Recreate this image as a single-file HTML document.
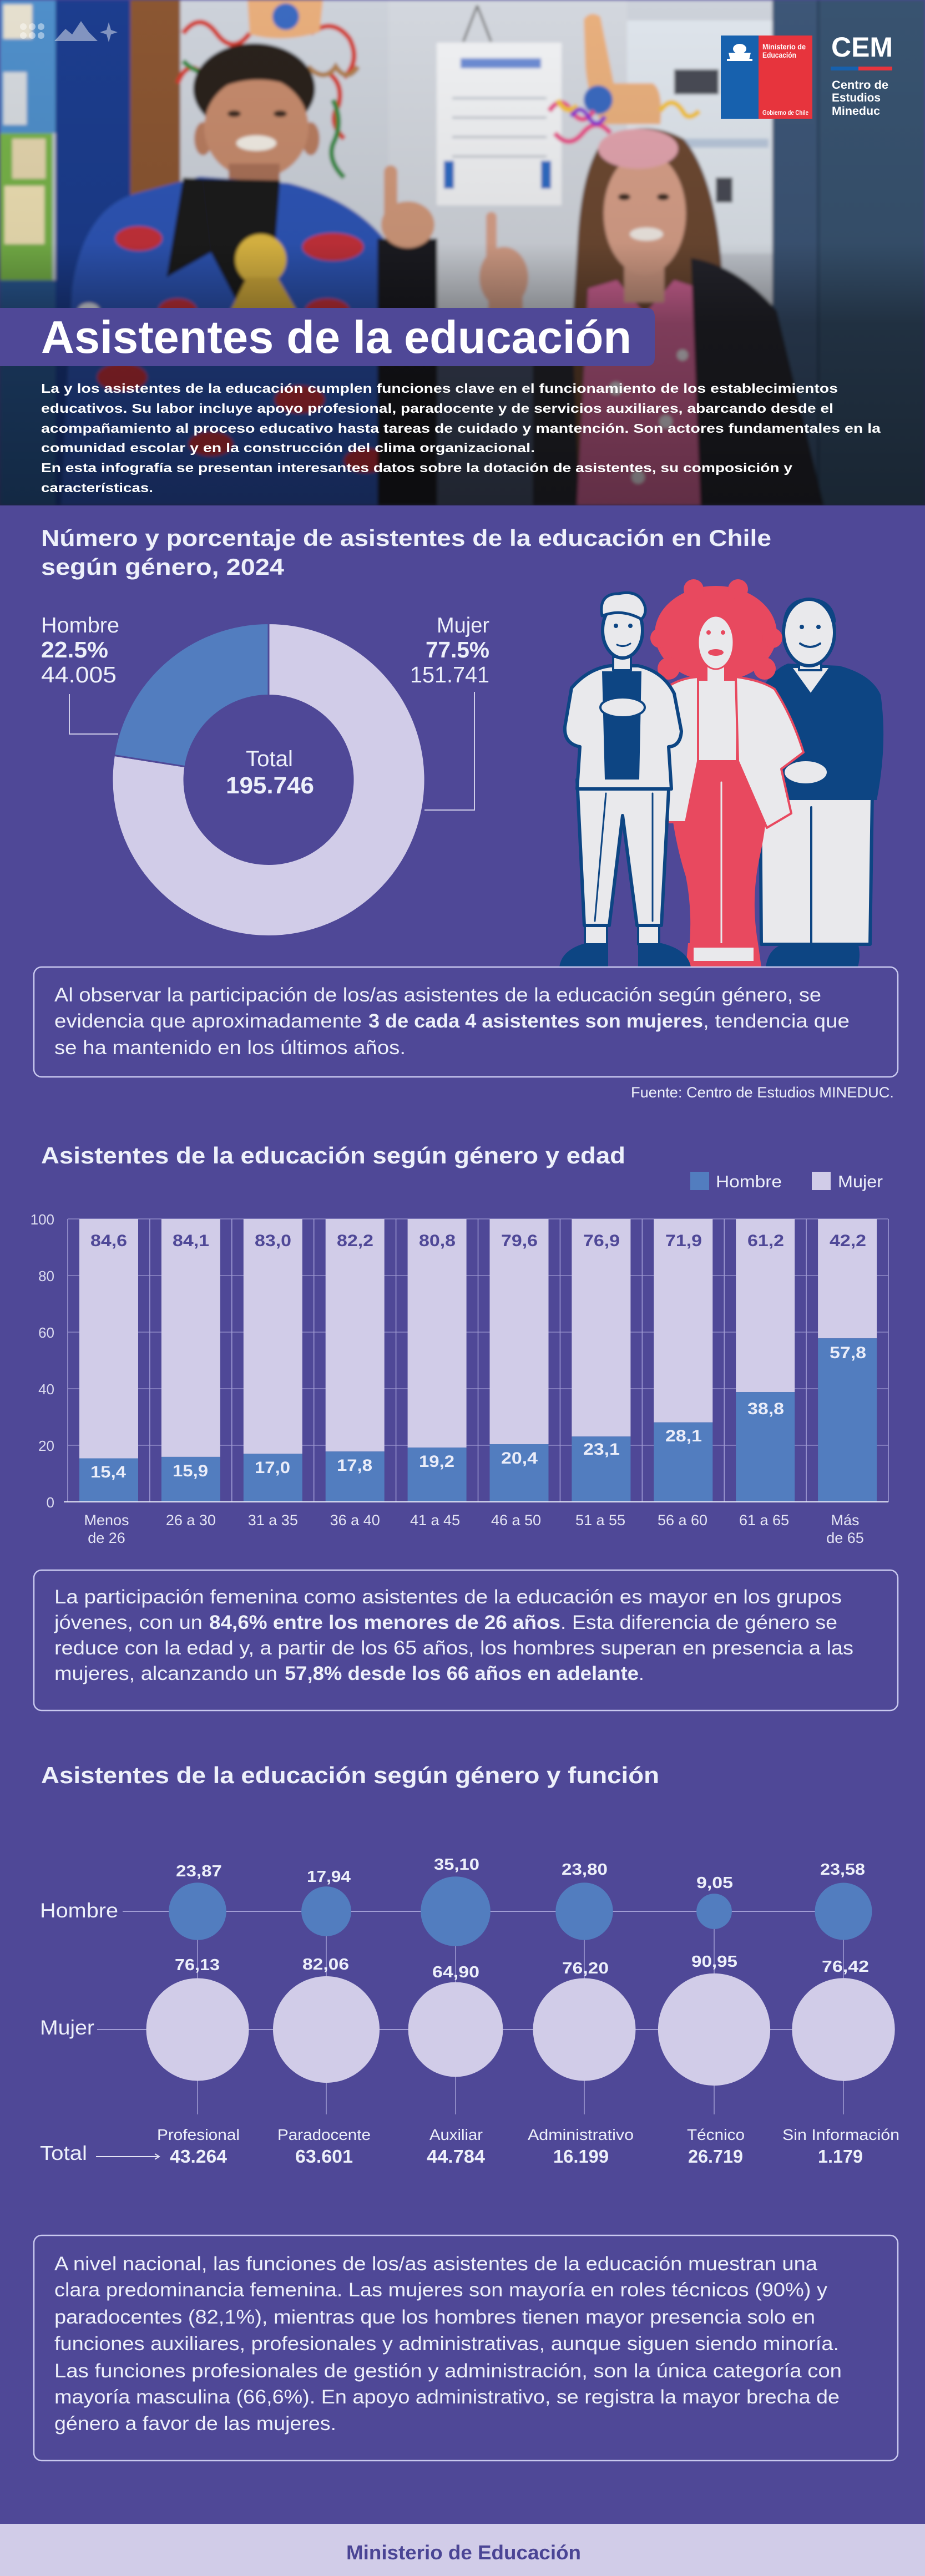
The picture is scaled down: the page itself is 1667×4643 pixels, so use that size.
<!DOCTYPE html>
<html lang="es">
<head>
<meta charset="utf-8">
<title>Asistentes de la educación</title>
<style>
html,body{margin:0;padding:0;background:#4f4897;}
body{width:1667px;height:4643px;overflow:hidden;}
svg{display:block;}
text{font-family:"Liberation Sans",sans-serif;}
.b{font-weight:bold;}
.w{fill:#edf0fa;}
</style>
</head>
<body>
<svg xmlns="http://www.w3.org/2000/svg" width="1667" height="4643" viewBox="0 0 1667 4643">
<defs>
  <clipPath id="pc"><rect x="0" y="0" width="1667" height="911"/></clipPath>
  <filter id="bl" filterUnits="userSpaceOnUse" x="-20" y="-20" width="1707" height="960">
    <feGaussianBlur stdDeviation="3"/>
  </filter>
  <linearGradient id="dk" x1="0" y1="0" x2="0" y2="1">
    <stop offset="0" stop-color="#000" stop-opacity="0"/>
    <stop offset="0.48" stop-color="#000" stop-opacity="0.08"/>
    <stop offset="0.64" stop-color="#000" stop-opacity="0.42"/>
    <stop offset="1" stop-color="#000" stop-opacity="0.55"/>
  </linearGradient>
</defs>

<!-- page background -->
<rect x="0" y="0" width="1667" height="4643" fill="#4f4897"/>

<!-- ================= PHOTO ================= -->
<g clip-path="url(#pc)">
<g filter="url(#bl)">
  <rect x="0" y="0" width="1667" height="911" fill="#c8cdd5"/>
  <!-- left board -->
  <rect x="0" y="0" width="100" height="240" fill="#4f8fca"/>
  <rect x="6" y="8" width="52" height="62" fill="#e6e0cf"/>
  <rect x="6" y="130" width="42" height="95" fill="#d6dadf"/>
  <rect x="0" y="240" width="95" height="265" fill="#78b44a"/>
  <rect x="22" y="250" width="60" height="72" fill="#e5d6ae"/>
  <rect x="8" y="335" width="72" height="105" fill="#efe1b4"/>
  <rect x="0" y="505" width="100" height="406" fill="#2a5a96"/>
  <rect x="100" y="0" width="135" height="911" fill="#1f3e8e"/>
  <rect x="235" y="0" width="90" height="620" fill="#8b5632"/>
  <rect x="235" y="620" width="90" height="291" fill="#4a3426"/>
  <!-- wall -->
  <rect x="325" y="0" width="1070" height="911" fill="#cdd2da"/>
  <rect x="700" y="0" width="430" height="911" fill="#d3d7de"/>
  <!-- lower middle dark area -->
  <rect x="788" y="560" width="240" height="351" fill="#46516b"/>
  <!-- paper -->
  <rect x="787" y="77" width="225" height="293" fill="#f1f2f4"/>
  <path d="M860 10 L835 75 M860 10 L885 75" stroke="#777" stroke-width="4" fill="none"/>
  <rect x="830" y="105" width="145" height="18" fill="#6d8dd4"/>
  <rect x="815" y="175" width="170" height="4" fill="#bfc4cc"/>
  <rect x="815" y="210" width="170" height="4" fill="#bfc4cc"/>
  <rect x="815" y="245" width="170" height="4" fill="#bfc4cc"/>
  <rect x="815" y="280" width="170" height="4" fill="#bfc4cc"/>
  <rect x="800" y="290" width="18" height="50" fill="#2f6cc4"/>
  <rect x="975" y="290" width="18" height="50" fill="#2f6cc4"/>
  <!-- sign right -->
  <rect x="1130" y="37" width="262" height="420" fill="#dfe5ec"/>
  <rect x="1140" y="250" width="245" height="16" fill="#b9c7da"/>
  <rect x="1215" y="125" width="80" height="45" fill="#4a4b55"/>
  <rect x="1290" y="320" width="30" height="45" fill="#4a4b55"/>
  <!-- door -->
  <rect x="1392" y="0" width="275" height="911" fill="#3d5777"/>
  <rect x="1472" y="0" width="5" height="911" fill="#2b425f"/>
  <rect x="1477" y="0" width="190" height="911" fill="#37536f"/>

  <!-- MAN -->
  <path d="M330 60 q30 -40 60 0 q30 40 60 0 M320 150 q20 -50 50 -10 M560 60 q40 -30 70 10 q20 40 -10 70 M590 130 q30 20 20 60 q-20 30 10 60" stroke="#d23a2e" stroke-width="9" fill="none"/>
  <path d="M330 110 q40 40 80 0 M600 180 q20 40 0 80 q-10 30 20 60" stroke="#2e8a3e" stroke-width="9" fill="none"/>
  <path d="M555 120 q30 30 50 0 q20 30 40 0" stroke="#b08050" stroke-width="9" fill="none"/>
  <ellipse cx="458" cy="160" rx="110" ry="82" fill="#2b211c"/>
  <ellipse cx="366" cy="250" rx="16" ry="30" fill="#b87d61"/>
  <ellipse cx="560" cy="250" rx="16" ry="30" fill="#b87d61"/>
  <ellipse cx="462" cy="230" rx="94" ry="92" fill="#c68b6d"/>
  <path d="M365 175 Q460 115 560 170 L565 140 Q460 80 360 145 Z" fill="#2b211c"/>
  <ellipse cx="422" cy="205" rx="12" ry="6" fill="#3a2a22"/>
  <ellipse cx="505" cy="205" rx="12" ry="6" fill="#3a2a22"/>
  <ellipse cx="462" cy="258" rx="36" ry="14" fill="#f1ece4"/>
  <path d="M446 0 L582 0 L576 58 Q510 78 450 62 Z" fill="#e8ae7c"/>
  <circle cx="515" cy="30" r="24" fill="#3a6ac0"/>
  <rect x="412" y="295" width="92" height="50" fill="#a97158"/>
  <path d="M110 911 L130 520 Q150 380 240 350 L360 318 L520 330 Q640 360 700 440 L760 560 L787 911 Z" fill="#2d56b8"/>
  <path d="M330 320 L365 322 L380 455 L300 500 Z" fill="#1a1a1f"/>
  <path d="M365 322 L505 325 L495 455 L435 560 L380 455 Z" fill="#1a1a1f"/>
  <ellipse cx="250" cy="430" rx="42" ry="22" fill="#c8323a"/>
  <ellipse cx="600" cy="445" rx="55" ry="25" fill="#c8323a"/>
  <ellipse cx="320" cy="560" rx="35" ry="22" fill="#c8323a"/>
  <ellipse cx="590" cy="560" rx="40" ry="22" fill="#c8323a"/>
  <ellipse cx="220" cy="680" rx="45" ry="25" fill="#c8323a"/>
  <ellipse cx="540" cy="720" rx="45" ry="25" fill="#c8323a"/>
  <ellipse cx="380" cy="800" rx="40" ry="22" fill="#c8323a"/>
  <ellipse cx="660" cy="830" rx="40" ry="22" fill="#c8323a"/>
  <ellipse cx="160" cy="560" rx="20" ry="14" fill="#e6e9f2"/>
  <ellipse cx="700" cy="640" rx="20" ry="14" fill="#e6e9f2"/>
  <circle cx="470" cy="468" r="46" fill="#e4bd45"/>
  <path d="M445 500 L500 500 L535 560 L415 560 Z" fill="#d6ae3e"/>
  <rect x="680" y="430" width="108" height="481" fill="#1d1d24"/>
  <ellipse cx="735" cy="405" rx="48" ry="42" fill="#d29a7b"/>
  <rect x="692" y="298" width="24" height="100" rx="12" fill="#d29a7b"/>

  <!-- WOMAN -->
  <path d="M1052 35 Q1064 18 1082 30 L1106 150 L1176 150 Q1196 162 1190 224 L1085 224 Q1060 180 1055 120 Z" fill="#e9b07e"/>
  <circle cx="1078" cy="180" r="26" fill="#3a6ac0"/>
  <path d="M990 200 q20 -30 40 0 q20 30 40 0 M1000 240 q25 30 50 0 q25 -30 50 0" stroke="#e84d8a" stroke-width="9" fill="none"/>
  <path d="M1005 180 q15 30 35 10 M1190 200 q20 -30 40 0 q10 20 30 0" stroke="#f2c230" stroke-width="9" fill="none"/>
  <path d="M1030 210 q15 -25 30 0 q15 25 30 0" stroke="#8a3ad0" stroke-width="8" fill="none"/>
  <path d="M1090 250 Q1160 212 1232 250 Q1292 320 1302 500 Q1330 700 1350 911 L1010 911 Q1028 650 1040 450 Q1046 300 1090 250 Z" fill="#6d4a31"/>
  <path d="M960 600 L1030 560 L1045 911 L960 911 Z" fill="#2a2a30"/>
  <path d="M1060 520 L1112 505 L1162 565 L1215 505 L1268 522 L1275 911 L1040 911 Z" fill="#d9679b"/>
  <circle cx="1110" cy="700" r="12" fill="#f0e8f0"/>
  <circle cx="1200" cy="760" r="12" fill="#f0e8f0"/>
  <circle cx="1150" cy="860" r="12" fill="#f0e8f0"/>
  <circle cx="1230" cy="640" r="10" fill="#f0e8f0"/>
  <rect x="1125" y="475" width="72" height="70" fill="#d39c86"/>
  <ellipse cx="1162" cy="385" rx="74" ry="110" fill="#d8a089"/>
  <ellipse cx="1150" cy="268" rx="72" ry="36" fill="#e2a4ae"/>
  <ellipse cx="1125" cy="355" rx="11" ry="6" fill="#3a2a22"/>
  <ellipse cx="1195" cy="355" rx="11" ry="6" fill="#3a2a22"/>
  <ellipse cx="1165" cy="422" rx="30" ry="12" fill="#f3ece6"/>
  <path d="M1245 465 Q1330 478 1400 560 L1485 911 L1262 911 Z" fill="#27272d"/>
  <rect x="876" y="382" width="19" height="92" rx="9" fill="#d9a28a"/>
  <ellipse cx="908" cy="500" rx="44" ry="55" fill="#d9a28a"/>
  <rect x="880" y="520" width="62" height="60" fill="#d9a28a"/>
</g>
<rect x="0" y="0" width="1667" height="911" fill="url(#dk)"/>
</g>

<!-- top-left decorative icon -->
<g fill="#ffffff" fill-opacity="0.45">
  <circle cx="42" cy="48" r="6"/><circle cx="58" cy="48" r="6"/><circle cx="74" cy="48" r="6"/>
  <circle cx="42" cy="64" r="6"/><circle cx="58" cy="64" r="6"/><circle cx="74" cy="64" r="6"/>
  <path d="M98 74 L118 52 L130 62 L146 38 L160 58 L176 74 Z"/>
  <path d="M196 40 L200 54 L212 58 L200 62 L196 76 L192 62 L180 58 L192 54 Z"/>
</g>

<!-- Government logo -->
<rect x="1299" y="64" width="68" height="150" fill="#1761ae"/>
<rect x="1367" y="64" width="97" height="150" fill="#e7343d"/>
<g fill="#ffffff">
  <ellipse cx="1333" cy="88" rx="12" ry="9"/>
  <path d="M1313 95 L1353 95 L1350 108 L1316 108 Z"/>
  <rect x="1310" y="106" width="46" height="4"/>
</g>
<text x="1374" y="89" class="b" font-size="14" fill="#fff" textLength="78" lengthAdjust="spacingAndGlyphs">Ministerio de</text>
<text x="1374" y="104" class="b" font-size="14" fill="#fff" textLength="61" lengthAdjust="spacingAndGlyphs">Educación</text>
<text x="1374" y="207" class="b" font-size="12" fill="#fff" textLength="83" lengthAdjust="spacingAndGlyphs">Gobierno de Chile</text>

<!-- CEM -->
<text x="1498" y="102" class="b" font-size="50" fill="#fff" textLength="111" lengthAdjust="spacingAndGlyphs">CEM</text>
<rect x="1497" y="120" width="50" height="7" fill="#1761ae"/>
<rect x="1547" y="120" width="61" height="7" fill="#e7343d"/>
<text x="1499" y="160" class="b" font-size="21" fill="#fff" textLength="102" lengthAdjust="spacingAndGlyphs">Centro de</text>
<text x="1499" y="183" class="b" font-size="21" fill="#fff" textLength="88" lengthAdjust="spacingAndGlyphs">Estudios</text>
<text x="1499" y="207" class="b" font-size="21" fill="#fff" textLength="87" lengthAdjust="spacingAndGlyphs">Mineduc</text>

<!-- Title bar -->
<path d="M0 555 L1164 555 Q1180 555 1180 571 L1180 644 Q1180 660 1164 660 L0 660 Z" fill="#4f4897"/>
<text x="74" y="636" class="b" font-size="83" fill="#fff" textLength="1064" lengthAdjust="spacingAndGlyphs">Asistentes de la educación</text>

<!-- Intro text -->
<g class="b" font-size="23" fill="#fff">
<text x="74" y="708" textLength="1436" lengthAdjust="spacingAndGlyphs">La y los asistentes de la educación cumplen funciones clave en el funcionamiento de los establecimientos</text>
<text x="74" y="744" textLength="1428" lengthAdjust="spacingAndGlyphs">educativos. Su labor incluye apoyo profesional, paradocente y de servicios auxiliares, abarcando desde el</text>
<text x="74" y="780" textLength="1513" lengthAdjust="spacingAndGlyphs">acompañamiento al proceso educativo hasta tareas de cuidado y mantención. Son actores fundamentales en la</text>
<text x="74" y="815" textLength="890" lengthAdjust="spacingAndGlyphs">comunidad escolar y en la construcción del clima organizacional.</text>
<text x="74" y="851" textLength="1354" lengthAdjust="spacingAndGlyphs">En esta infografía se presentan interesantes datos sobre la dotación de asistentes, su composición y</text>
<text x="74" y="887" textLength="202" lengthAdjust="spacingAndGlyphs">características.</text>
</g>

<!-- ================= SECTION 1 ================= -->
<text x="74" y="984" class="b w" font-size="42" textLength="1316" lengthAdjust="spacingAndGlyphs">Número y porcentaje de asistentes de la educación en Chile</text>
<text x="74" y="1036" class="b w" font-size="42" textLength="438" lengthAdjust="spacingAndGlyphs">según género, 2024</text>

<!-- donut -->
<path d="M484 1123.5 A282 282 0 1 1 205.5 1361.4 L333.9 1381.7 A152 152 0 1 0 484 1253.5 Z" fill="#d1cce8" stroke="#4f4897" stroke-width="3"/>
<path d="M484 1123.5 A282 282 0 0 0 205.5 1361.4 L333.9 1381.7 A152 152 0 0 1 484 1253.5 Z" fill="#527dbf" stroke="#4f4897" stroke-width="3"/>
<polyline points="125,1251 125,1323 213,1323" fill="none" stroke="#cfcde9" stroke-width="2"/>
<polyline points="855,1247 855,1460 765,1460" fill="none" stroke="#cfcde9" stroke-width="2"/>

<g class="w">
<text x="74" y="1140" font-size="39" textLength="141" lengthAdjust="spacingAndGlyphs">Hombre</text>
<text x="74" y="1185" class="b" font-size="41" textLength="121" lengthAdjust="spacingAndGlyphs">22.5%</text>
<text x="74" y="1230" font-size="41" textLength="136" lengthAdjust="spacingAndGlyphs">44.005</text>
<text x="787" y="1140" font-size="39" textLength="95" lengthAdjust="spacingAndGlyphs">Mujer</text>
<text x="767" y="1185" class="b" font-size="41" textLength="115" lengthAdjust="spacingAndGlyphs">77.5%</text>
<text x="739" y="1230" font-size="41" textLength="143" lengthAdjust="spacingAndGlyphs">151.741</text>
<text x="443" y="1381" font-size="40" textLength="85" lengthAdjust="spacingAndGlyphs">Total</text>
<text x="407" y="1430" class="b" font-size="43" textLength="159" lengthAdjust="spacingAndGlyphs">195.746</text>
</g>

<!-- illustration -->
<g stroke-linejoin="round" stroke-linecap="round">
  <!-- right man -->
  <path d="M1380 1743 Q1385 1705 1420 1700 L1546 1700 Q1552 1720 1546 1743 Z" fill="#0d4583"/>
  <path d="M1370 1430 L1572 1430 L1568 1702 L1372 1702 Z" fill="#e9e9ec" stroke="#0d4583" stroke-width="6"/>
  <line x1="1462" y1="1455" x2="1462" y2="1700" stroke="#0d4583" stroke-width="4"/>
  <path d="M1374 1240 Q1395 1205 1420 1196 L1512 1200 Q1570 1215 1587 1252 Q1600 1340 1580 1442 L1376 1442 Z" fill="#0d4583"/>
  <path d="M1425 1202 L1497 1202 L1461 1252 Z" fill="#e9e9ec" stroke="#0d4583" stroke-width="4"/>
  <ellipse cx="1452" cy="1392" rx="40" ry="22" fill="#e9e9ec" stroke="#0d4583" stroke-width="4"/>
  <rect x="1440" y="1188" width="40" height="20" fill="#e9e9ec" stroke="#0d4583" stroke-width="4"/>
  <ellipse cx="1458" cy="1140" rx="46" ry="60" fill="#e9e9ec" stroke="#0d4583" stroke-width="6"/>
  <path d="M1414 1118 Q1420 1080 1460 1080 Q1500 1082 1504 1120" fill="none" stroke="#0d4583" stroke-width="5"/>
  <circle cx="1445" cy="1130" r="4" fill="#0d4583"/><circle cx="1475" cy="1130" r="4" fill="#0d4583"/>
  <path d="M1442 1160 Q1460 1172 1478 1160" fill="none" stroke="#0d4583" stroke-width="4"/>

  <!-- woman -->
  <ellipse cx="1290" cy="1142" rx="110" ry="86" fill="#e8495f"/>
  <circle cx="1190" cy="1150" r="18" fill="#e8495f"/><circle cx="1392" cy="1150" r="18" fill="#e8495f"/>
  <circle cx="1250" cy="1062" r="18" fill="#e8495f"/><circle cx="1330" cy="1062" r="18" fill="#e8495f"/>
  <circle cx="1205" cy="1205" r="20" fill="#e8495f"/><circle cx="1378" cy="1205" r="20" fill="#e8495f"/>
  <path d="M1206 1372 L1382 1372 Q1388 1460 1370 1540 Q1352 1620 1366 1700 L1364 1730 L1240 1730 Q1250 1650 1236 1580 Q1204 1480 1206 1372 Z" fill="#e8495f"/>
  <line x1="1300" y1="1410" x2="1300" y2="1728" stroke="#e9e9ec" stroke-width="3"/>
  <path d="M1240 1700 L1366 1700 L1372 1743 L1236 1743 Z" fill="#e8495f"/>
  <rect x="1250" y="1708" width="108" height="24" fill="#e9e9ec"/>
  <path d="M1256 1225 L1330 1225 L1328 1372 L1258 1372 Z" fill="#e9e9ec" stroke="#e8495f" stroke-width="4"/>
  <path d="M1200 1240 Q1225 1222 1258 1220 L1258 1372 L1236 1482 L1204 1482 Q1196 1360 1200 1240 Z" fill="#e9e9ec" stroke="#e8495f" stroke-width="4"/>
  <path d="M1326 1220 Q1372 1226 1396 1242 Q1428 1292 1448 1356 L1408 1386 L1426 1466 L1382 1492 L1330 1372 Z" fill="#e9e9ec" stroke="#e8495f" stroke-width="4"/>
  <rect x="1275" y="1198" width="30" height="30" fill="#e9e9ec"/>
  <ellipse cx="1290" cy="1158" rx="32" ry="48" fill="#e9e9ec" stroke="#e8495f" stroke-width="3"/>
  <circle cx="1277" cy="1140" r="4" fill="#e8495f"/><circle cx="1303" cy="1140" r="4" fill="#e8495f"/>
  <ellipse cx="1290" cy="1176" rx="14" ry="6" fill="#e8495f"/>

  <!-- left man -->
  <path d="M1008 1743 Q1012 1712 1055 1700 L1096 1700 L1096 1743 Z" fill="#0d4583"/>
  <path d="M1150 1700 L1192 1700 Q1240 1712 1245 1743 L1150 1743 Z" fill="#0d4583"/>
  <rect x="1054" y="1664" width="40" height="38" fill="#e9e9ec" stroke="#0d4583" stroke-width="4"/>
  <rect x="1150" y="1664" width="38" height="38" fill="#e9e9ec" stroke="#0d4583" stroke-width="4"/>
  <path d="M1040 1405 L1206 1405 L1192 1668 L1148 1668 L1122 1470 L1098 1668 L1053 1668 Z" fill="#e9e9ec" stroke="#0d4583" stroke-width="6"/>
  <line x1="1092" y1="1430" x2="1072" y2="1660" stroke="#0d4583" stroke-width="3"/>
  <line x1="1176" y1="1430" x2="1176" y2="1660" stroke="#0d4583" stroke-width="3"/>
  <path d="M1030 1240 Q1060 1205 1100 1200 L1150 1200 Q1195 1210 1215 1250 L1228 1318 Q1226 1345 1205 1346 L1210 1422 L1040 1422 L1045 1346 Q1016 1340 1018 1310 Z" fill="#e9e9ec" stroke="#0d4583" stroke-width="6"/>
  <path d="M1085 1210 L1156 1210 L1152 1405 L1090 1405 Z" fill="#0d4583"/>
  <ellipse cx="1122" cy="1275" rx="40" ry="18" fill="#e9e9ec" stroke="#0d4583" stroke-width="4"/>
  <rect x="1105" y="1184" width="32" height="24" fill="#e9e9ec" stroke="#0d4583" stroke-width="4"/>
  <ellipse cx="1122" cy="1136" rx="36" ry="50" fill="#e9e9ec" stroke="#0d4583" stroke-width="6"/>
  <path d="M1085 1110 Q1078 1070 1115 1070 Q1152 1062 1162 1092 Q1166 1106 1156 1116 Q1120 1096 1085 1110 Z" fill="#e9e9ec" stroke="#0d4583" stroke-width="5"/>
  <circle cx="1110" cy="1128" r="4" fill="#0d4583"/><circle cx="1136" cy="1128" r="4" fill="#0d4583"/>
  <path d="M1112 1162 Q1124 1168 1136 1160" fill="none" stroke="#0d4583" stroke-width="3"/>
</g>

<!-- Box 1 -->
<rect x="61" y="1743" width="1557" height="198" rx="14" fill="none" stroke="#c9c9ef" stroke-width="2.5"/>
<g font-size="35" class="w">
<text x="98" y="1805" textLength="1382" lengthAdjust="spacingAndGlyphs">Al observar la participación de los/as asistentes de la educación según género, se</text>
<text x="98" y="1852" textLength="554" lengthAdjust="spacingAndGlyphs">evidencia que aproximadamente</text>
<text x="664" y="1852" class="b" textLength="603" lengthAdjust="spacingAndGlyphs">3 de cada 4 asistentes son mujeres</text>
<text x="1267" y="1852" textLength="264" lengthAdjust="spacingAndGlyphs">, tendencia que</text>
<text x="98" y="1900" textLength="633" lengthAdjust="spacingAndGlyphs">se ha mantenido en los últimos años.</text>
</g>
<text x="1137" y="1978" font-size="27" class="w" textLength="474" lengthAdjust="spacingAndGlyphs">Fuente: Centro de Estudios MINEDUC.</text>

<!-- ================= SECTION 2 ================= -->
<text x="74" y="2097" class="b w" font-size="42" textLength="1053" lengthAdjust="spacingAndGlyphs">Asistentes de la educación según género y edad</text>
<rect x="1244" y="2112" width="34" height="33" fill="#527dbf"/>
<text x="1290" y="2140" font-size="31" class="w" textLength="119" lengthAdjust="spacingAndGlyphs">Hombre</text>
<rect x="1463" y="2112" width="34" height="33" fill="#d1cce8"/>
<text x="1510" y="2140" font-size="31" class="w" textLength="81" lengthAdjust="spacingAndGlyphs">Mujer</text>

<!-- grid -->
<g stroke="#8f89c6" stroke-width="1.5">
  <line x1="122" y1="2197" x2="1601" y2="2197"/>
  <line x1="122" y1="2299" x2="1601" y2="2299"/>
  <line x1="122" y1="2401" x2="1601" y2="2401"/>
  <line x1="122" y1="2503" x2="1601" y2="2503"/>
  <line x1="122" y1="2605" x2="1601" y2="2605"/>
</g>
<g stroke="#a29ed6" stroke-width="1.5">
  <line x1="122" y1="2197" x2="122" y2="2707"/>
  <line x1="269.9" y1="2197" x2="269.9" y2="2707"/>
  <line x1="417.8" y1="2197" x2="417.8" y2="2707"/>
  <line x1="565.7" y1="2197" x2="565.7" y2="2707"/>
  <line x1="713.6" y1="2197" x2="713.6" y2="2707"/>
  <line x1="861.5" y1="2197" x2="861.5" y2="2707"/>
  <line x1="1009.4" y1="2197" x2="1009.4" y2="2707"/>
  <line x1="1157.3" y1="2197" x2="1157.3" y2="2707"/>
  <line x1="1305.2" y1="2197" x2="1305.2" y2="2707"/>
  <line x1="1453.1" y1="2197" x2="1453.1" y2="2707"/>
  <line x1="1601" y1="2197" x2="1601" y2="2707"/>
</g>

<!-- bars: mujer (lavender) -->
<g fill="#d1cce8">
  <rect x="143" y="2197" width="106" height="431.5"/>
  <rect x="290.9" y="2197" width="106" height="428.9"/>
  <rect x="438.8" y="2197" width="106" height="423.3"/>
  <rect x="586.7" y="2197" width="106" height="419.2"/>
  <rect x="734.6" y="2197" width="106" height="412.1"/>
  <rect x="882.5" y="2197" width="106" height="406"/>
  <rect x="1030.4" y="2197" width="106" height="392.2"/>
  <rect x="1178.3" y="2197" width="106" height="366.7"/>
  <rect x="1326.2" y="2197" width="106" height="312.1"/>
  <rect x="1474.1" y="2197" width="106" height="215.2"/>
</g>
<g fill="#527dbf">
  <rect x="143" y="2628.5" width="106" height="78.5"/>
  <rect x="290.9" y="2625.9" width="106" height="81.1"/>
  <rect x="438.8" y="2620.3" width="106" height="86.7"/>
  <rect x="586.7" y="2616.2" width="106" height="90.8"/>
  <rect x="734.6" y="2609.1" width="106" height="97.9"/>
  <rect x="882.5" y="2603" width="106" height="104"/>
  <rect x="1030.4" y="2589.2" width="106" height="117.8"/>
  <rect x="1178.3" y="2563.7" width="106" height="143.3"/>
  <rect x="1326.2" y="2509.1" width="106" height="197.9"/>
  <rect x="1474.1" y="2412.2" width="106" height="294.8"/>
</g>
<line x1="115" y1="2707" x2="1601" y2="2707" stroke="#e4e4f4" stroke-width="2"/>

<!-- y ticks -->
<g font-size="26" fill="#dcdcf0" text-anchor="end">
  <text x="98" y="2207">100</text>
  <text x="98" y="2309">80</text>
  <text x="98" y="2411">60</text>
  <text x="98" y="2513">40</text>
  <text x="98" y="2615">20</text>
  <text x="98" y="2717">0</text>
</g>

<!-- mujer labels -->
<g class="b" font-size="30" fill="#4f4897">
  <text x="163" y="2246" textLength="66" lengthAdjust="spacingAndGlyphs">84,6</text>
  <text x="311" y="2246" textLength="66" lengthAdjust="spacingAndGlyphs">84,1</text>
  <text x="459" y="2246" textLength="66" lengthAdjust="spacingAndGlyphs">83,0</text>
  <text x="607" y="2246" textLength="66" lengthAdjust="spacingAndGlyphs">82,2</text>
  <text x="755" y="2246" textLength="66" lengthAdjust="spacingAndGlyphs">80,8</text>
  <text x="903" y="2246" textLength="66" lengthAdjust="spacingAndGlyphs">79,6</text>
  <text x="1051" y="2246" textLength="66" lengthAdjust="spacingAndGlyphs">76,9</text>
  <text x="1199" y="2246" textLength="66" lengthAdjust="spacingAndGlyphs">71,9</text>
  <text x="1347" y="2246" textLength="66" lengthAdjust="spacingAndGlyphs">61,2</text>
  <text x="1495" y="2246" textLength="66" lengthAdjust="spacingAndGlyphs">42,2</text>
</g>
<!-- hombre labels -->
<g class="b" font-size="30" fill="#eaedf9">
  <text x="163" y="2663" textLength="64" lengthAdjust="spacingAndGlyphs">15,4</text>
  <text x="311" y="2661" textLength="64" lengthAdjust="spacingAndGlyphs">15,9</text>
  <text x="459" y="2655" textLength="64" lengthAdjust="spacingAndGlyphs">17,0</text>
  <text x="607" y="2651" textLength="64" lengthAdjust="spacingAndGlyphs">17,8</text>
  <text x="755" y="2644" textLength="64" lengthAdjust="spacingAndGlyphs">19,2</text>
  <text x="903" y="2638" textLength="66" lengthAdjust="spacingAndGlyphs">20,4</text>
  <text x="1051" y="2622" textLength="66" lengthAdjust="spacingAndGlyphs">23,1</text>
  <text x="1199" y="2598" textLength="66" lengthAdjust="spacingAndGlyphs">28,1</text>
  <text x="1347" y="2549" textLength="66" lengthAdjust="spacingAndGlyphs">38,8</text>
  <text x="1495" y="2448" textLength="66" lengthAdjust="spacingAndGlyphs">57,8</text>
</g>
<!-- x labels -->
<g font-size="27" fill="#e4e4f4" text-anchor="middle">
  <text x="192" y="2749">Menos</text>
  <text x="192" y="2781">de 26</text>
  <text x="343.9" y="2749">26 a 30</text>
  <text x="491.8" y="2749">31 a 35</text>
  <text x="639.7" y="2749">36 a 40</text>
  <text x="784" y="2749">41 a 45</text>
  <text x="930" y="2749">46 a 50</text>
  <text x="1082" y="2749">51 a 55</text>
  <text x="1230" y="2749">56 a 60</text>
  <text x="1377" y="2749">61 a 65</text>
  <text x="1523" y="2749">Más</text>
  <text x="1523" y="2781">de 65</text>
</g>

<!-- Box 2 -->
<rect x="61" y="2830" width="1557" height="253" rx="14" fill="none" stroke="#c9c9ef" stroke-width="2.5"/>
<g font-size="35" class="w">
<text x="98" y="2890" textLength="1419" lengthAdjust="spacingAndGlyphs">La participación femenina como asistentes de la educación es mayor en los grupos</text>
<text x="98" y="2936" textLength="267" lengthAdjust="spacingAndGlyphs">jóvenes, con un</text>
<text x="377" y="2936" class="b" textLength="633" lengthAdjust="spacingAndGlyphs">84,6% entre los menores de 26 años</text>
<text x="1010" y="2936" textLength="499" lengthAdjust="spacingAndGlyphs">. Esta diferencia de género se</text>
<text x="98" y="2982" textLength="1440" lengthAdjust="spacingAndGlyphs">reduce con la edad y, a partir de los 65 años, los hombres superan en presencia a las</text>
<text x="98" y="3028" textLength="402" lengthAdjust="spacingAndGlyphs">mujeres, alcanzando un</text>
<text x="513" y="3028" class="b" textLength="638" lengthAdjust="spacingAndGlyphs">57,8% desde los 66 años en adelante</text>
<text x="1151" y="3028">.</text>
</g>

<!-- ================= SECTION 3 ================= -->
<text x="74" y="3214" class="b w" font-size="42" textLength="1114" lengthAdjust="spacingAndGlyphs">Asistentes de la educación según género y función</text>

<g stroke="#a09cd4" stroke-width="2">
  <line x1="221" y1="3445" x2="1520" y2="3445"/>
  <line x1="175" y1="3658" x2="1520" y2="3658"/>
</g>
<g stroke="#a09cd4" stroke-width="1.5">
  <line x1="356" y1="3445" x2="356" y2="3811"/>
  <line x1="588" y1="3445" x2="588" y2="3811"/>
  <line x1="821" y1="3445" x2="821" y2="3811"/>
  <line x1="1053" y1="3445" x2="1053" y2="3811"/>
  <line x1="1287" y1="3445" x2="1287" y2="3811"/>
  <line x1="1520" y1="3445" x2="1520" y2="3811"/>
</g>
<g fill="#527dbf">
  <circle cx="356" cy="3445" r="51.8"/>
  <circle cx="588" cy="3445" r="44.9"/>
  <circle cx="821" cy="3445" r="62.8"/>
  <circle cx="1053" cy="3445" r="51.7"/>
  <circle cx="1287" cy="3445" r="31.9"/>
  <circle cx="1520" cy="3445" r="51.5"/>
</g>
<g fill="#d1cce8">
  <circle cx="356" cy="3658" r="92.5"/>
  <circle cx="588" cy="3658" r="96"/>
  <circle cx="821" cy="3658" r="85.4"/>
  <circle cx="1053" cy="3658" r="92.5"/>
  <circle cx="1287" cy="3658" r="101.1"/>
  <circle cx="1520" cy="3658" r="92.7"/>
</g>

<text x="72" y="3456" font-size="37" class="w" textLength="141" lengthAdjust="spacingAndGlyphs">Hombre</text>
<text x="72" y="3667" font-size="37" class="w" textLength="98" lengthAdjust="spacingAndGlyphs">Mujer</text>

<g class="b w" font-size="29">
  <text x="317" y="3382" textLength="83" lengthAdjust="spacingAndGlyphs">23,87</text>
  <text x="553" y="3392" textLength="79" lengthAdjust="spacingAndGlyphs">17,94</text>
  <text x="782" y="3370" textLength="82" lengthAdjust="spacingAndGlyphs">35,10</text>
  <text x="1012" y="3379" textLength="83" lengthAdjust="spacingAndGlyphs">23,80</text>
  <text x="1255" y="3403" textLength="66" lengthAdjust="spacingAndGlyphs">9,05</text>
  <text x="1478" y="3379" textLength="81" lengthAdjust="spacingAndGlyphs">23,58</text>
  <text x="315" y="3551" textLength="81" lengthAdjust="spacingAndGlyphs">76,13</text>
  <text x="545" y="3550" textLength="84" lengthAdjust="spacingAndGlyphs">82,06</text>
  <text x="779" y="3564" textLength="85" lengthAdjust="spacingAndGlyphs">64,90</text>
  <text x="1013" y="3557" textLength="84" lengthAdjust="spacingAndGlyphs">76,20</text>
  <text x="1246" y="3545" textLength="83" lengthAdjust="spacingAndGlyphs">90,95</text>
  <text x="1481" y="3554" textLength="85" lengthAdjust="spacingAndGlyphs">76,42</text>
</g>

<g font-size="28" class="w">
  <text x="283" y="3857" textLength="149" lengthAdjust="spacingAndGlyphs">Profesional</text>
  <text x="500" y="3857" textLength="168" lengthAdjust="spacingAndGlyphs">Paradocente</text>
  <text x="774" y="3857" textLength="96" lengthAdjust="spacingAndGlyphs">Auxiliar</text>
  <text x="951" y="3857" textLength="191" lengthAdjust="spacingAndGlyphs">Administrativo</text>
  <text x="1238" y="3857" textLength="104" lengthAdjust="spacingAndGlyphs">Técnico</text>
  <text x="1410" y="3857" textLength="211" lengthAdjust="spacingAndGlyphs">Sin Información</text>
</g>
<g class="b w" font-size="33">
  <text x="306" y="3898" textLength="103" lengthAdjust="spacingAndGlyphs">43.264</text>
  <text x="532" y="3898" textLength="104" lengthAdjust="spacingAndGlyphs">63.601</text>
  <text x="769" y="3898" textLength="105" lengthAdjust="spacingAndGlyphs">44.784</text>
  <text x="997" y="3898" textLength="100" lengthAdjust="spacingAndGlyphs">16.199</text>
  <text x="1240" y="3898" textLength="99" lengthAdjust="spacingAndGlyphs">26.719</text>
  <text x="1474" y="3898" textLength="81" lengthAdjust="spacingAndGlyphs">1.179</text>
</g>
<text x="72" y="3893" font-size="36" class="w" textLength="85" lengthAdjust="spacingAndGlyphs">Total</text>
<line x1="173" y1="3887" x2="286" y2="3887" stroke="#e4e4f4" stroke-width="2"/>
<polyline points="279,3882 287,3887 279,3892" fill="none" stroke="#e4e4f4" stroke-width="2"/>

<!-- Box 3 -->
<rect x="61" y="4029" width="1557" height="406" rx="14" fill="none" stroke="#c9c9ef" stroke-width="2.5"/>
<g font-size="35" class="w">
<text x="98" y="4092" textLength="1375" lengthAdjust="spacingAndGlyphs">A nivel nacional, las funciones de los/as asistentes de la educación muestran una</text>
<text x="98" y="4139" textLength="1393" lengthAdjust="spacingAndGlyphs">clara predominancia femenina. Las mujeres son mayoría en roles técnicos (90%) y</text>
<text x="98" y="4188" textLength="1371" lengthAdjust="spacingAndGlyphs">paradocentes (82,1%), mientras que los hombres tienen mayor presencia solo en</text>
<text x="98" y="4236" textLength="1414" lengthAdjust="spacingAndGlyphs">funciones auxiliares, profesionales y administrativas, aunque siguen siendo minoría.</text>
<text x="98" y="4285" textLength="1419" lengthAdjust="spacingAndGlyphs">Las funciones profesionales de gestión y administración, son la única categoría con</text>
<text x="98" y="4332" textLength="1415" lengthAdjust="spacingAndGlyphs">mayoría masculina (66,6%). En apoyo administrativo, se registra la mayor brecha de</text>
<text x="98" y="4380" textLength="508" lengthAdjust="spacingAndGlyphs">género a favor de las mujeres.</text>
</g>

<!-- footer -->
<rect x="0" y="4549" width="1667" height="94" fill="#d1cce8"/>
<text x="624" y="4613" class="b" font-size="36" fill="#4b4595" textLength="423" lengthAdjust="spacingAndGlyphs">Ministerio de Educación</text>
</svg>
</body>
</html>
